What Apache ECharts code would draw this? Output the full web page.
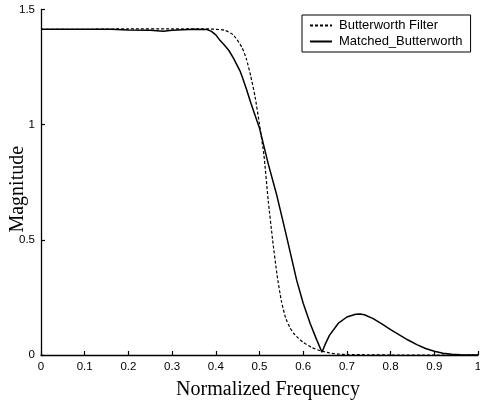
<!DOCTYPE html>
<html lang="en">

<head>
    <meta charset="UTF-8">
    <title>Butterworth vs Matched</title>
    <style>
        html, body { margin: 0; padding: 0; background: #fff; }
        .box { width: 480px; height: 403px; }
    </style>
    <script src="https://cdn.jsdelivr.net/npm/echarts@6/dist/echarts.min.js"></script>
</head>

<body>
    <div class="box"></div>
    <script>
        // values
        const xTicks = [0, 0.1, 0.2, 0.3, 0.4, 0.5, 0.6, 0.7, 0.8, 0.9, 1];
        const yTicks = [0, 0.5, 1, 1.5];

        const bwFreq = [0, 0.1, 0.2, 0.3, 0.38, 0.40, 0.42, 0.44, 0.46, 0.47, 0.48, 0.49, 0.50, 0.51, 0.52,
            0.53, 0.54, 0.55, 0.56, 0.57, 0.58, 0.60, 0.62, 0.64, 0.66, 0.68, 0.70, 0.75, 0.8, 0.9, 1.0];
        const bwMag = [1.414, 1.414, 1.416, 1.416, 1.416, 1.414, 1.41, 1.39, 1.335, 1.285, 1.21, 1.12, 1.0, 0.87, 0.67,
            0.5, 0.35, 0.235, 0.16, 0.118, 0.09, 0.055, 0.032, 0.018, 0.009, 0.004, 0.002, 0.001, 0, 0, 0];

        const mbFreq = [0, 0.16, 0.2, 0.25, 0.28, 0.30, 0.35, 0.38, 0.39, 0.40, 0.41, 0.42, 0.43, 0.44, 0.455, 0.46,
            0.47, 0.48, 0.49, 0.50, 0.52, 0.54, 0.56, 0.585, 0.60, 0.616, 0.63, 0.643, 0.65, 0.66, 0.68, 0.70,
            0.72, 0.73, 0.74, 0.76, 0.78, 0.80, 0.82, 0.84, 0.86, 0.88, 0.90, 0.92, 0.94, 0.96, 0.98, 1.0];
        const mbMag = [1.414, 1.414, 1.411, 1.41, 1.406, 1.41, 1.414, 1.413, 1.405, 1.39, 1.365, 1.345, 1.322, 1.29, 1.235, 1.21,
            1.155, 1.095, 1.04, 0.985, 0.83, 0.69, 0.53, 0.325, 0.225, 0.137, 0.07, 0.012, 0.045, 0.085, 0.137, 0.165,
            0.177, 0.178, 0.175, 0.158, 0.135, 0.11, 0.087, 0.065, 0.045, 0.028, 0.016, 0.008, 0.003, 0.001, 0, 0];

        const pairs = (xs, ys) => xs.map((x, i) => [x, ys[i]]);

        const chart = echarts.init(document.querySelector('.box'));

        const axisCommon = {
            axisLine: { show: true, lineStyle: { color: '#000', width: 1.3 } },
            axisTick: { show: true, inside: true, length: 4, lineStyle: { color: '#000', width: 1.2 } },
            splitLine: { show: false },
            axisLabel: { color: '#000', fontFamily: 'Liberation Sans', fontSize: 11.5, margin: 6 },
            nameMoveOverlap: false,
            nameTextStyle: { color: '#000', fontFamily: 'Liberation Serif', fontSize: 20 }
        };

        chart.setOption({
            animation: false,
            backgroundColor: '#fff',
            grid: { left: 41, right: 2, top: 9.5, bottom: 48, containLabel: false, outerBoundsMode: 'none' },
            legend: {
                orient: 'vertical',
                left: 302,
                top: 15,
                itemWidth: 22,
                itemHeight: 14,
                itemGap: 3,
                padding: [4, 8, 4, 7],
                borderColor: '#000',
                borderWidth: 1,
                backgroundColor: '#fff',
                itemStyle: { color: 'rgba(0,0,0,0)', borderWidth: 0, opacity: 0 },
                textStyle: { color: '#000', fontFamily: 'Liberation Sans', fontSize: 13, padding: [0, 0, 0, 2] },
                data: ['Butterworth Filter', 'Matched_Butterworth']
            },
            xAxis: Object.assign({}, axisCommon, {
                type: 'value',
                min: xTicks[0],
                max: xTicks[xTicks.length - 1],
                interval: 0.1,
                name: 'Normalized Frequency',
                nameLocation: 'middle',
                nameGap: 25,
                nameTextStyle: Object.assign({}, axisCommon.nameTextStyle, { padding: [0, 0, 0, 17] })
            }),
            yAxis: Object.assign({}, axisCommon, {
                type: 'value',
                min: yTicks[0],
                max: yTicks[yTicks.length - 1],
                interval: 0.5,
                name: 'Magnitude',
                nameLocation: 'middle',
                nameGap: 13,
                nameTextStyle: Object.assign({}, axisCommon.nameTextStyle, { padding: [0, 14, 0, 0] })
            }),
            series: [{
                name: 'Butterworth Filter',
                type: 'line',
                symbol: 'none',
                smooth: 0.2,
                data: pairs(bwFreq, bwMag),
                lineStyle: { color: '#000', width: 1.2, type: [3, 2] },
                itemStyle: { color: '#000' },
                z: 2
            }, {
                name: 'Matched_Butterworth',
                type: 'line',
                symbol: 'none',
                data: pairs(mbFreq, mbMag),
                lineStyle: { color: '#000', width: 1.5 },
                itemStyle: { color: '#000' },
                z: 3
            }]
        });
    </script>
</body>

</html>
